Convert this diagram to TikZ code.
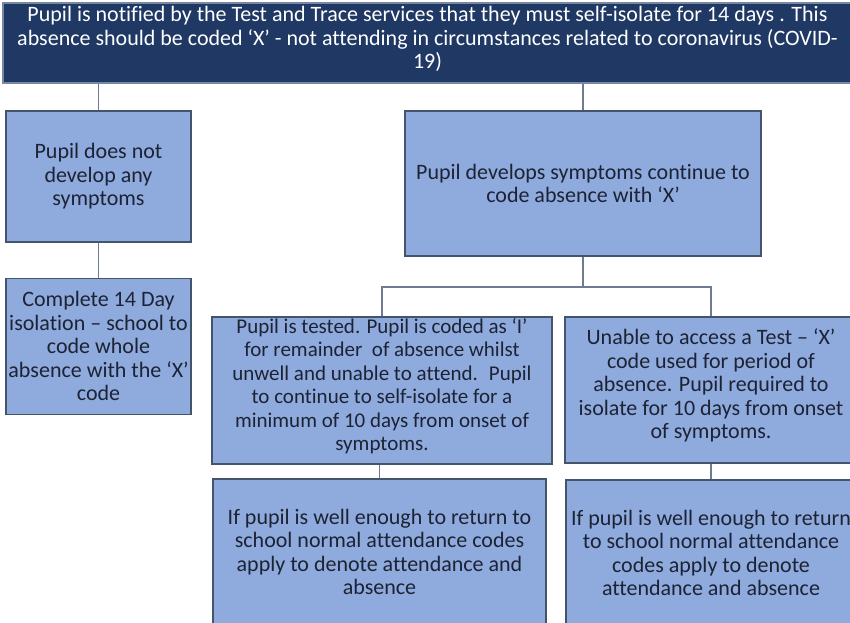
\documentclass[tikz,border=0pt]{standalone}
\usepackage{fontspec}
\setmainfont{Carlito}[Ligatures=CommonOff]
\usepackage{tikz}
\usetikzlibrary{positioning,calc}
\definecolor{navy}{HTML}{1F3864}
\definecolor{boxfill}{HTML}{8FAADC}
\definecolor{boxline}{HTML}{44546A}
\definecolor{wire}{HTML}{6F7B93}
\definecolor{txt}{HTML}{1C2335}
% empty last line that lifts a node's text a little
\newcommand{\liftup}[1]{\\[-#1]\mbox{}}

\begin{document}
\begin{tikzpicture}[x=1pt,y=-1pt,
 box/.style={draw=boxline,line width=1.2pt,fill=boxfill,align=center,
 inner sep=0pt,text=txt,font=\fontsize{22}{23.5}\selectfont},
 banner/.style={box,fill=navy,draw=navy!60,text=white},
 link/.style={draw=wire,line width=1.3pt}]
 \useasboundingbox (0,0) rectangle (850,622);
 \clip (0,0) rectangle (850,622);
 \node[banner,minimum width=849pt,minimum height=80pt] (notified) at (427.5,43)
 {Pupil is notified by the Test and Trace services that they must self-isolate for 14 days . This\\
 absence should be coded ‘X’ - not attending in circumstances related to coronavirus (COVID-\\19)\liftup{13pt}};
 \node[box,minimum width=185pt,minimum height=131pt] (nosym) at (98.5,176.5)
 {Pupil does not\\develop any\\symptoms};
 \node[box,minimum width=185pt,minimum height=136pt,below=35pt of nosym] (fullday)
 {Complete 14 Day\\isolation -- school to\\code whole\\absence with the ‘X’\\code};
 \node[box,minimum width=356pt,minimum height=145pt] (sym) at (583,183.5)
 {Pupil develops symptoms continue to\\code absence with ‘X’};
 \node[box,minimum width=340pt,minimum height=147pt,font=\fontsize{21}{23.5}\selectfont] (tested) at (382,390.5)
 {Pupil is tested. Pupil is coded as ‘I’\\for remainder \ of absence whilst\\
 unwell and unable to attend. \ Pupil\\to continue to self-isolate for a\\
 minimum of 10 days from onset of\\symptoms.\liftup{11pt}};
 \node[box,minimum width=292pt,minimum height=146pt] (notest) at (711,390)
 {Unable to access a Test -- ‘X’\\code used for period of\\absence. Pupil required to\\
 isolate for 10 days from onset\\of symptoms.\liftup{11pt}};
 \node[box,minimum width=333pt,minimum height=146pt] (wellA) at (379.5,552)
 {If pupil is well enough to return to\\school normal attendance codes\\
 apply to denote attendance and\\absence};
 \node[box,minimum width=290pt,minimum height=146pt] (wellB) at (711,553)
 {If pupil is well enough to return\\to school normal attendance\\
 codes apply to denote\\attendance and absence};
 \coordinate (split) at (583,287);
 \draw[link] (notified.south -| nosym.north) -- (nosym.north);
 \draw[link] (notified.south -| sym.north) -- (sym.north);
 \draw[link] (nosym) -- (fullday);
 \draw[link] (sym.south) -- (split);
 \draw[link] (tested.north) |- (split) -| (notest.north);
 \draw[link] (tested.south -| wellA.north) -- (wellA.north);
 \draw[link] (notest.south) -- (wellB.north);
\end{tikzpicture}
\end{document}
